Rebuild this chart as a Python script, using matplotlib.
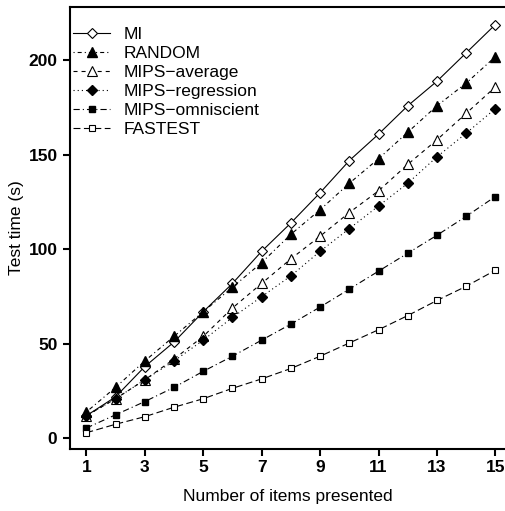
import numpy as np
import matplotlib
matplotlib.use('Agg')
import matplotlib.pyplot as plt

plt.rcParams['font.family'] = ['Liberation Sans', 'DejaVu Sans']
plt.rcParams['lines.scale_dashes'] = False

# number of items presented
items = np.arange(1, 16)

mi = [12, 22, 38, 51, 67, 82, 99, 114, 130, 147, 161, 176, 189, 204, 219]
random_sel = [14, 27, 41, 54, 67, 80, 93, 108, 121, 135, 148, 162, 176, 188, 202]
mips_avg = [12, 21, 31, 42, 54, 69, 82, 95, 107, 119.5, 131, 145, 158, 172, 186]
mips_reg = [12, 21, 31, 41, 52, 64, 75, 86, 99, 111, 123, 135, 149, 161.5, 174.5]
mips_omni = [5.5, 12.5, 19.5, 27, 35.5, 43.5, 52, 60.5, 69.5, 79, 88.5, 98, 107.5, 117.5, 128]
fastest = [3, 7.5, 11.5, 16.5, 21, 26.5, 31.5, 37, 43.5, 50.5, 57.5, 65, 73, 80.5, 89]

labels = ['MI', 'RANDOM', 'MIPS\u2212average', 'MIPS\u2212regression',
          'MIPS\u2212omniscient', 'FASTEST']

fig = plt.figure(figsize=(5.05, 5.11), dpi=100)
ax = fig.add_axes([70 / 505, 1 - 449 / 511, 1 - 70 / 505, 442 / 511])

lw = 0.8
ax.plot(items, mi, color='k', lw=lw, ls='-', marker='D', ms=5,
        mfc='white', mec='k', mew=0.8, label=labels[0])
ax.plot(items, random_sel, color='k', lw=lw, ls=(0, (0.8, 2.2, 2.9, 2.2)),
        marker='^', ms=7, mfc='k', mec='k', label=labels[1])
ax.plot(items, mips_avg, color='k', lw=lw, ls=(0, (2.9, 2.9)),
        marker='^', ms=7, mfc='white', mec='k', mew=0.8, label=labels[2])
ax.plot(items, mips_reg, color='k', lw=lw, ls=(0, (0.8, 2.2)),
        marker='D', ms=5, mfc='k', mec='k', label=labels[3])
ax.plot(items, mips_omni, color='k', lw=lw, ls=(0, (4.5, 2.2, 0.8, 2.2)),
        marker='s', ms=5, mfc='k', mec='k', label=labels[4])
ax.plot(items, fastest, color='k', lw=lw, ls=(0, (5, 2.5)),
        marker='s', ms=5, mfc='white', mec='k', mew=0.8, label=labels[5])

ax.set_xlim(0.44, 15.33)
ax.set_ylim(-5.6, 228.3)
ax.set_xticks(np.arange(1, 16, 2))
ax.set_yticks([0, 50, 100, 150, 200])

for s in ['left', 'bottom', 'top']:
    ax.spines[s].set_linewidth(1.5)
ax.spines['right'].set_visible(False)

ax.tick_params(direction='out', length=5, width=1.5, labelsize=12.5)
ax.tick_params(axis='x', pad=3)
ax.tick_params(axis='y', pad=4)
for t in ax.get_xticklabels() + ax.get_yticklabels():
    t.set_fontweight('bold')

ax.set_xlabel('Number of items presented', fontsize=12.5, labelpad=10)
ax.set_ylabel('Test time (s)', fontsize=12.5, labelpad=3)

ax.legend(loc='upper left', bbox_to_anchor=(0.0, 0.963), frameon=False,
          fontsize=12.5, handlelength=2.1, handletextpad=0.8,
          labelspacing=0.22, borderaxespad=0, borderpad=0.2)

plt.savefig('out.png', dpi=100)
